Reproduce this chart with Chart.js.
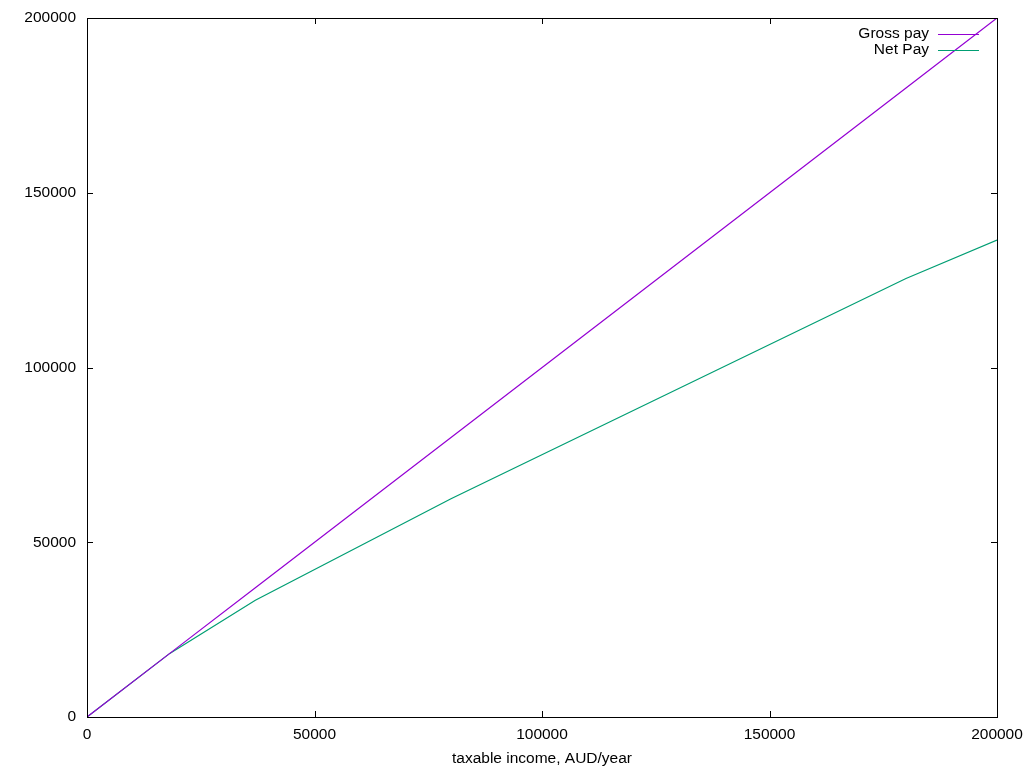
<!DOCTYPE html>
<html>
<head>
<meta charset="utf-8">
<script src="https://cdn.jsdelivr.net/npm/chart.js@4"></script>
<style>
  html, body { margin: 0; padding: 0; background: #fff; }
  #wrap { width: 1024px; height: 768px; position: relative; }
</style>
</head>
<body>
<div id="wrap"><canvas id="chart" width="1024" height="768"></canvas></div>
<script>
// taxable income breakpoints (AUD/year)
const income = [0, 18200, 37000, 80000, 180000, 200000];
// gross pay = income
const grossPay = [0, 18200, 37000, 80000, 180000, 200000];
// net pay after income tax
const netPay = [0, 18200, 33428, 62453, 125453, 136453];

const seriesLabels = ["Gross pay", "Net Pay"];
const seriesColors = ["#9400d3", "#009e73"];
const tickStep = 50000;

const FONT = "Liberation Sans, Arial, sans-serif";

const toPoints = (ys) => income.map((x, i) => ({ x: x, y: ys[i] }));

// frame box, inward ticks on all four sides, and gnuplot-style key
const framePlugin = {
  id: "frame",
  afterDraw(chart) {
    const ctx = chart.ctx;
    const a = chart.chartArea;
    const xs = chart.scales.x, ys = chart.scales.y;
    const tl = 6;
    ctx.save();
    ctx.strokeStyle = "#000";
    ctx.lineWidth = 1;
    ctx.strokeRect(Math.round(a.left) + 0.5, Math.round(a.top) + 0.5,
      Math.round(a.right - a.left), Math.round(a.bottom - a.top));
    ctx.beginPath();
    xs.ticks.forEach((t) => {
      const px = Math.round(xs.getPixelForValue(t.value)) + 0.5;
      ctx.moveTo(px, a.bottom); ctx.lineTo(px, a.bottom - tl);
      ctx.moveTo(px, a.top); ctx.lineTo(px, a.top + tl);
    });
    ys.ticks.forEach((t) => {
      const py = Math.round(ys.getPixelForValue(t.value)) + 0.5;
      ctx.moveTo(a.left, py); ctx.lineTo(a.left + tl, py);
      ctx.moveTo(a.right, py); ctx.lineTo(a.right - tl, py);
    });
    ctx.stroke();

    // key
    ctx.font = "15.5px " + FONT;
    ctx.textAlign = "right";
    ctx.textBaseline = "middle";
    chart.data.datasets.forEach((ds, i) => {
      const y = 34 + i * 16;
      ctx.fillStyle = "#000";
      ctx.fillText(ds.label, 929, y);
      ctx.strokeStyle = ds.borderColor;
      ctx.beginPath();
      ctx.moveTo(938, y + 0.5);
      ctx.lineTo(979, y + 0.5);
      ctx.stroke();
    });
    ctx.restore();
  },
};

new Chart(document.getElementById("chart"), {
  type: "line",
  data: {
    datasets: [
      {
        label: seriesLabels[0],
        data: toPoints(grossPay),
        borderColor: seriesColors[0],
        borderWidth: 1.2,
        pointRadius: 0,
        fill: false,
      },
      {
        label: seriesLabels[1],
        data: toPoints(netPay),
        borderColor: seriesColors[1],
        borderWidth: 1.2,
        pointRadius: 0,
        fill: false,
      },
    ],
  },
  options: {
    responsive: false,
    animation: false,
    layout: { padding: { left: 0, top: 18, right: 27, bottom: 0 } },
    plugins: {
      legend: { display: false },
      tooltip: { enabled: false },
    },
    scales: {
      x: {
        type: "linear",
        min: 0,
        max: 200000,
        grid: { display: false, drawTicks: false },
        border: { display: false },
        ticks: {
          stepSize: tickStep,
          padding: 8,
          color: "#000",
          maxRotation: 0,
          font: { family: FONT, size: 15.5 },
          callback: (v) => String(v),
        },
        title: {
          display: true,
          text: "taxable income, AUD/year",
          color: "#000",
          font: { family: FONT, size: 15.5 },
          padding: { top: 0, bottom: 0 },
        },
        afterFit: (s) => {
          s.height = 51;
          s.paddingLeft = 0;
          s.paddingRight = 0;
        },
      },
      y: {
        type: "linear",
        min: 0,
        max: 200000,
        grid: { display: false, drawTicks: false },
        border: { display: false },
        ticks: {
          stepSize: tickStep,
          padding: 11,
          color: "#000",
          font: { family: FONT, size: 15.5 },
          callback: (v) => String(v),
        },
        afterFit: (s) => {
          s.width = 87;
          s.paddingTop = 0;
          s.paddingBottom = 0;
        },
      },
    },
  },
  plugins: [framePlugin],
});
</script>
</body>
</html>
